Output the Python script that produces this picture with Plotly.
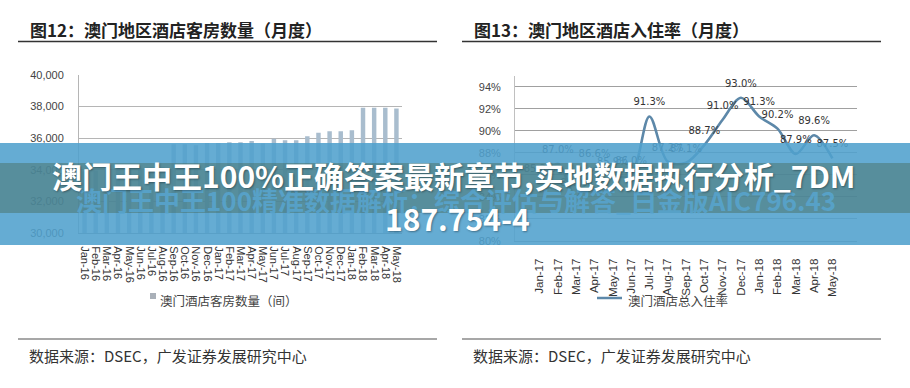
import plotly.graph_objects as go

# ---------------- data ----------------
months_rooms = ["Jan-16", "Feb-16", "Mar-16", "Apr-16", "May-16", "Jun-16", "Jul-16", "Aug-16",
                "Sep-16", "Oct-16", "Nov-16", "Dec-16", "Jan-17", "Feb-17", "Mar-17", "Apr-17",
                "May-17", "Jun-17", "Jul-17", "Aug-17", "Sep-17", "Oct-17", "Nov-17", "Dec-17",
                "Jan-18", "Feb-18", "Mar-18", "Apr-18", "May-18"]
rooms = [33900, 33950, 34000, 34000, 34050, 34100, 34150, 34200,
         35620, 35620, 35560, 35700, 35700, 35750, 35750, 35830,
         35660, 35960, 35870, 35870, 36130, 36340, 36440, 36440,
         36510, 37930, 37930, 37930, 37880]

months_occ = ["Jan-17", "Feb-17", "Mar-17", "Apr-17", "May-17", "Jun-17", "Jul-17", "Aug-17",
              "Sep-17", "Oct-17", "Nov-17", "Dec-17", "Jan-18", "Feb-18", "Mar-18", "Apr-18", "May-18"]
occupancy = [85.3, 87.0, 84.0, 86.6, 85.9, 86.0, 91.3, 87.2,
             87.1, 88.7, 91.0, 93.0, 91.3, 90.2, 87.9, 89.6, 87.5]

rooms_ticks = [30000, 32000, 34000, 36000, 38000, 40000]
occ_ticks = [80, 82, 84, 86, 88, 90, 92, 94]
occ_tick_labels = ["80%", "82%", "84%", "86%", "88%", "90%", "92%", "94%"]

title_left = "图12：澳门地区酒店客房数量（月度）"
title_right = "图13：澳门地区酒店入住率（月度）"
legend_left = "澳门酒店客房数量（间）"
legend_right = "澳门酒店总入住率"
source_text = "数据来源：DSEC，广发证券发展研究中心"
banner_line1 = "澳门王中王100%正确答案最新章节,实地数据执行分析_7DM"
banner_line2 = "187.754-4"
banner_faint = "澳门王中王100精准数据解析：综合评估与解答_白金版AIC796.43"

W, H = 910, 388


def px(x):
    return x / W


def py(y):
    return 1 - y / H


BAR_COLOR = "#a9bdce"
LINE_COLOR = "#5d88a9"
CJK = "Noto Sans CJK SC"
LAT = "Liberation Sans"

fig = go.Figure()

fig.add_trace(go.Bar(
    x=months_rooms, y=rooms, xaxis="x", yaxis="y",
    marker=dict(color=BAR_COLOR, line=dict(width=0)),
    width=0.4, showlegend=False, hoverinfo="x+y",
))

fig.add_trace(go.Scatter(
    x=months_occ, y=occupancy, xaxis="x2", yaxis="y2",
    mode="lines+markers+text",
    line=dict(color=LINE_COLOR, width=2.6, shape="spline", smoothing=0.9),
    marker=dict(size=12, color="rgba(0,0,0,0)"),
    text=[f"{v:.1f}%" for v in occupancy],
    textposition="top center",
    textfont=dict(family="DejaVu Sans", size=10, color="#333333"),
    showlegend=False, cliponaxis=True,
))

fig.update_layout(
    width=W, height=H, autosize=False,
    margin=dict(l=0, r=0, t=0, b=0, pad=0, autoexpand=False),
    paper_bgcolor="white", plot_bgcolor="white",
    showlegend=False,
    xaxis=dict(
        domain=[px(79), px(402)], anchor="y", type="category",
        tickmode="array", tickvals=months_rooms, ticktext=months_rooms,
        tickangle=90, tickfont=dict(family=LAT, size=11, color="#333333"),
        showline=True, linecolor="#9a9a9a", linewidth=1, ticks="",
        ticklabelstandoff=10, showgrid=False, automargin=False,
    ),
    yaxis=dict(
        domain=[py(233), py(75)], anchor="x", range=[30000, 40000],
        tickvals=rooms_ticks, tickformat=",",
        tickfont=dict(family=LAT, size=11, color="#444444"),
        showgrid=True, gridcolor="#b5b5b5", gridwidth=1,
        showline=True, linecolor="#b5b5b5", linewidth=1,
        zeroline=False, ticks="", ticklabelstandoff=12, automargin=False,
    ),
    xaxis2=dict(
        domain=[px(515), px(857)], anchor="y2", type="category",
        tickmode="array", tickvals=months_occ, ticktext=months_occ,
        tickangle=-90, tickfont=dict(family=LAT, size=11.5, color="#333333"),
        showline=True, linecolor="#a0a0a0", linewidth=1, ticks="",
        ticklabelstandoff=12, showgrid=False, automargin=False,
    ),
    yaxis2=dict(
        domain=[py(241), py(75.7)], anchor="x2", range=[80, 95],
        tickmode="array", tickvals=occ_ticks, ticktext=occ_tick_labels,
        tickfont=dict(family=LAT, size=11, color="#444444"),
        showgrid=True, gridcolor="#a0a0a0", gridwidth=1,
        showline=True, linecolor="#c0c0c0", linewidth=1,
        zeroline=False, ticks="", ticklabelstandoff=11, automargin=False,
    ),
)

shapes = []
annotations = []

# title rules and footer rules
for x0, x1 in [(18, 437), (462, 881)]:
    shapes.append(dict(type="line", xref="paper", yref="paper",
                       x0=px(x0), x1=px(x1), y0=py(41.5), y1=py(41.5),
                       line=dict(color="#333333", width=1.5)))
    shapes.append(dict(type="line", xref="paper", yref="paper",
                       x0=px(x0), x1=px(x1), y0=py(339), y1=py(339),
                       line=dict(color="#8a8a8a", width=1.5)))

# titles
for x, t in [(28, title_left), (472, title_right)]:
    annotations.append(dict(xref="paper", yref="paper", x=px(x), y=py(30),
                            xanchor="left", yanchor="middle", showarrow=False,
                            text=t, font=dict(family=CJK, size=17, color="#222222", weight=700)))

# sources
for x in [27, 471]:
    annotations.append(dict(xref="paper", yref="paper", x=px(x), y=py(355),
                            xanchor="left", yanchor="middle", showarrow=False,
                            text=source_text, font=dict(family=CJK, size=15, color="#333333")))

# legends
shapes.append(dict(type="rect", xref="paper", yref="paper",
                   x0=px(150), x1=px(156), y0=py(299), y1=py(293),
                   fillcolor="#a9b0b8", line=dict(width=0)))
annotations.append(dict(xref="paper", yref="paper", x=px(158), y=py(300),
                        xanchor="left", yanchor="middle", showarrow=False,
                        text=legend_left, font=dict(family=CJK, size=12.5, color="#444444")))
shapes.append(dict(type="line", xref="paper", yref="paper",
                   x0=px(597), x1=px(622), y0=py(298), y1=py(298),
                   line=dict(color=LINE_COLOR, width=2.5)))
annotations.append(dict(xref="paper", yref="paper", x=px(626), y=py(300),
                        xanchor="left", yanchor="middle", showarrow=False,
                        text=legend_right, font=dict(family=CJK, size=12.5, color="#444444")))

# banner overlay
shapes.append(dict(type="rect", xref="paper", yref="paper", layer="above",
                   x0=0, x1=1, y0=py(245), y1=py(143),
                   fillcolor="rgba(80,160,205,0.88)", line=dict(width=0)))
shapes.append(dict(type="rect", xref="paper", yref="paper", layer="above",
                   x0=0, x1=1, y0=py(213), y1=py(163),
                   fillcolor="rgba(70,100,80,0.42)", line=dict(width=0)))
annotations.append(dict(xref="paper", yref="paper", x=px(456), y=py(200),
                        xanchor="center", yanchor="middle", showarrow=False,
                        text=banner_faint,
                        font=dict(family=CJK, size=26, color="rgba(88,165,208,0.85)", weight=700)))
annotations.append(dict(xref="paper", yref="paper", x=px(453), y=py(175),
                        xanchor="center", yanchor="middle", showarrow=False,
                        text=banner_line1,
                        font=dict(family=CJK, size=30, color="white", weight=700,
                                  shadow="1px 1px 2px rgba(0,0,0,0.35)")))
annotations.append(dict(xref="paper", yref="paper", x=px(457), y=py(218),
                        xanchor="center", yanchor="middle", showarrow=False,
                        text=banner_line2,
                        font=dict(family=CJK, size=30, color="white", weight=700,
                                  shadow="1px 1px 2px rgba(0,0,0,0.35)")))

fig.update_layout(shapes=shapes, annotations=annotations)

fig.write_html("out.html", config={"displayModeBar": False},
               post_script="document.body.style.margin='0';")
